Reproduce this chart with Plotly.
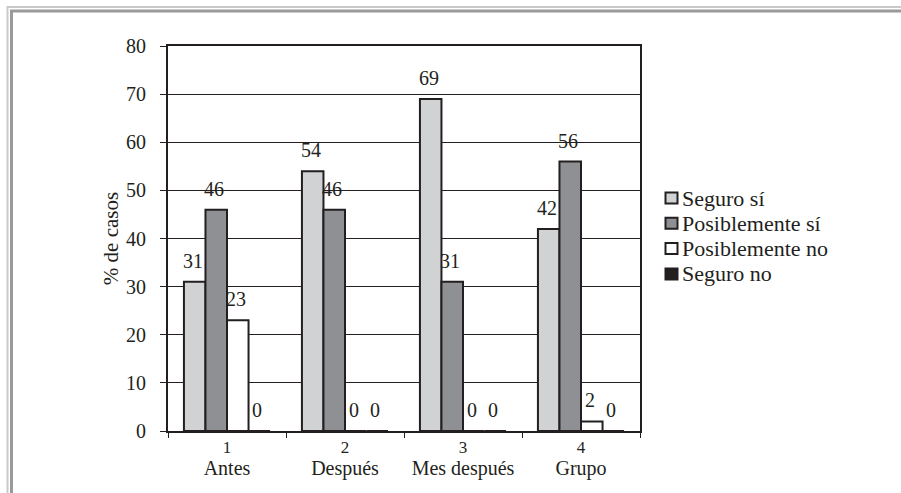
import plotly.graph_objects as go

# Survey results: percentage of cases per answer, at each moment
numeros = ["1", "2", "3", "4"]
momentos = ["Antes", "Después", "Mes después", "Grupo"]
respuestas = ["Seguro sí", "Posiblemente sí", "Posiblemente no", "Seguro no"]
seguro_si = [31, 54, 69, 42]
posiblemente_si = [46, 46, 31, 56]
posiblemente_no = [23, 0, 0, 2]
seguro_no = [0, 0, 0, 0]
y_ticks = [0, 10, 20, 30, 40, 50, 60, 70, 80]

series = [seguro_si, posiblemente_si, posiblemente_no, seguro_no]
colores = ["#D1D2D4", "#8F9094", "#FFFFFF", "#231F20"]

FONT = "Liberation Serif, Times New Roman, serif"
INK = "#231F20"
BARGAP = 0.27
W, H = 901, 493
ML, MR, MT, MB = 168, 261, 46, 62
PW, PH = W - ML - MR, H - MT - MB


def px_x(p):
    return (p - ML) / PW


def px_y(p):
    return (H - MB - p) / PH


fig = go.Figure()
cats = list(range(len(numeros)))
for nombre, valores, color in zip(respuestas, series, colores):
    fig.add_trace(go.Bar(
        x=cats, y=valores, name=nombre, showlegend=False,
        marker=dict(color=color, line=dict(color=INK, width=2)),
    ))

# value labels above each bar
n = len(series)
ancho = (1 - BARGAP) / n
anotaciones = []
for j, valores in enumerate(series):
    for i, v in enumerate(valores):
        anotaciones.append(dict(
            x=i + (j - (n - 1) / 2) * ancho, y=v, text=str(v),
            xref="x", yref="y", showarrow=False, yanchor="bottom",
            yshift=8, xshift=-2,
            font=dict(family=FONT, size=20, color=INK),
        ))

# legend: small framed squares with the answer names
formas = []
for k, (nombre, color) in enumerate(zip(respuestas, colores)):
    cy = 198 + 25.3 * k
    formas.append(dict(
        type="rect", xref="paper", yref="paper",
        x0=px_x(665.5), x1=px_x(677.5), y0=px_y(cy + 5.5), y1=px_y(cy - 5.5),
        line=dict(color=INK, width=2), fillcolor=color,
    ))
    anotaciones.append(dict(
        x=px_x(680), y=px_y(cy), xref="paper", yref="paper", text=nombre,
        showarrow=False, xanchor="left", yanchor="middle",
        font=dict(family=FONT, size=22, color=INK),
    ))

# outer double frame
formas += [
    dict(type="rect", xref="paper", yref="paper",
         x0=px_x(7.5), y0=px_y(560), x1=px_x(960), y1=px_y(7),
         line=dict(color="#C9C9C9", width=2), fillcolor="rgba(0,0,0,0)"),
    dict(type="rect", xref="paper", yref="paper",
         x0=px_x(11.5), y0=px_y(560), x1=px_x(960), y1=px_y(11),
         line=dict(color="#9A9A9A", width=3), fillcolor="rgba(0,0,0,0)"),
]

fig.update_layout(
    width=W, height=H,
    margin=dict(l=ML, r=MR, t=MT, b=MB, autoexpand=False),
    paper_bgcolor="white", plot_bgcolor="white",
    barmode="group", bargap=BARGAP, bargroupgap=0,
    font=dict(family=FONT, size=20, color=INK),
    showlegend=False,
    annotations=anotaciones,
    shapes=formas,
)
rango_x = [-0.5, len(numeros) - 0.5]
fig.update_xaxes(
    tickvals=cats, ticktext=numeros, range=rango_x,
    showline=True, linecolor=INK, linewidth=2, mirror=True,
    showgrid=False, zeroline=False, ticks="", ticklabelstandoff=0,
    tickfont=dict(family=FONT, size=17, color=INK),
)
# tick marks at the category boundaries, and the moment names below the numbers
fig.add_trace(go.Scatter(x=[None], y=[None], showlegend=False, xaxis="x2"))
fig.add_trace(go.Scatter(x=[None], y=[None], showlegend=False, xaxis="x3"))
fig.update_layout(
    xaxis2=dict(
        overlaying="x", anchor="y", side="bottom", range=rango_x,
        tickvals=[k - 0.5 for k in range(len(numeros) + 1)], ticks="outside",
        ticklen=6, tickcolor=INK, tickwidth=1, showticklabels=False,
        showgrid=False, zeroline=False, showline=False,
    ),
    xaxis3=dict(
        overlaying="x", anchor="y", side="bottom", range=rango_x,
        tickvals=cats, ticktext=momentos, ticks="", ticklabelstandoff=23,
        tickfont=dict(family=FONT, size=20, color=INK),
        showgrid=False, zeroline=False, showline=False,
    ),
)
fig.update_yaxes(
    range=[0, 80], tickvals=y_ticks,
    showline=True, linecolor=INK, linewidth=2, mirror=True,
    showgrid=True, gridcolor=INK, gridwidth=1, zeroline=False,
    ticks="outside", ticklen=6, tickcolor=INK, tickwidth=1,
    ticklabelstandoff=10,
    tickfont=dict(family=FONT, size=20, color=INK),
    title=dict(text="% de casos", standoff=2,
               font=dict(family=FONT, size=21, color=INK)),
)

fig.write_html("out.html")
